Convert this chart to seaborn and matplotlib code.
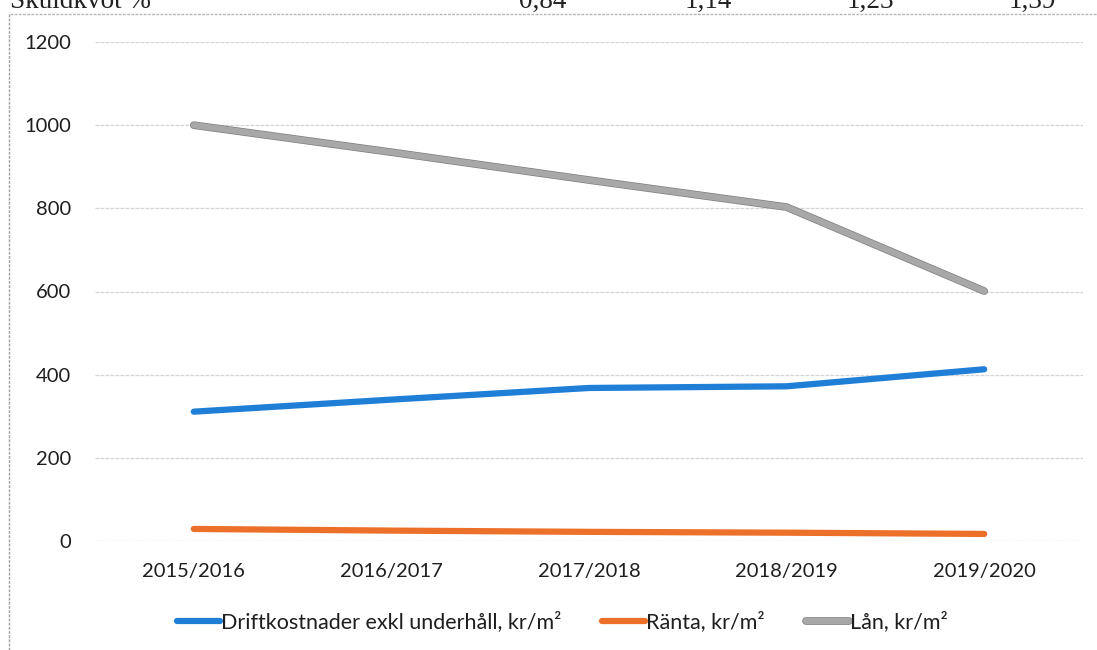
import pandas as pd
import seaborn as sns
import matplotlib.pyplot as plt
import matplotlib.patheffects as pe
from matplotlib.lines import Line2D

# Data
years = ["2015/2016", "2016/2017", "2017/2018", "2018/2019", "2019/2020"]
drift = [311, 340, 368, 372, 413]
ranta = [29, 25, 22, 20, 17]
lan = [1000, 935, 868, 803, 601]

series_names = ["Driftkostnader exkl underhåll, kr/m²", "Ränta, kr/m²", "Lån, kr/m²"]
colors = ["#1f7fd6", "#ec6f2a", "#a8a8a8"]

# Partly visible table row above the chart
header_label = "Skuldkvot %"
header_values = ["0,84", "1,14", "1,23", "1,39"]
header_x = [543, 708, 870, 1032]

df = pd.DataFrame({
    "year": years * 3,
    "value": drift + ranta + lan,
    "serie": [series_names[0]] * 5 + [series_names[1]] * 5 + [series_names[2]] * 5,
})

sns.set_style("white")
plt.rcParams["font.family"] = ["Lato", "DejaVu Sans"]

W, H = 1097, 650
fig = plt.figure(figsize=(W / 100, H / 100), dpi=100)
ax = fig.add_axes([95 / W, (H - 541) / H, (1083 - 95) / W, (541 - 42) / H])

sns.lineplot(data=df, x="year", y="value", hue="serie", palette=colors,
             linewidth=4.5, ax=ax, legend=False, sort=False)

# darker outline on the gray line, as in the scan
gray_fx = [pe.Stroke(linewidth=5.5, foreground="#7d7d7d"), pe.Normal()]
ax.lines[2].set_path_effects(gray_fx)
for ln in ax.lines:
    ln.set_solid_capstyle("round")

ax.set_xlim(-0.5, 4.5)
ax.set_ylim(0, 1200)
ax.set_yticks(range(0, 1201, 200))
ax.grid(axis="y", color="#d4d4d4", linewidth=0.9, linestyle=(0, (3, 1)))
ax.set_axisbelow(True)
for s in ax.spines.values():
    s.set_visible(False)
ax.set_xlabel("")
ax.set_ylabel("")
ax.tick_params(axis="both", length=0, labelsize=14.5, labelcolor="#1e1e1e")
ax.tick_params(axis="y", pad=17)
ax.tick_params(axis="x", pad=16)

handles = [Line2D([0], [0], color=c, linewidth=4.5, solid_capstyle="round") for c in colors]
handles[2].set_path_effects(gray_fx)
fig.legend(handles, series_names, loc="center", bbox_to_anchor=(562 / W, (H - 622) / H),
           ncol=3, frameon=False, fontsize=15.5, handlelength=2.0, handletextpad=0.05,
           columnspacing=1.9, labelcolor="#1e1e1e")

# table fragment at the top, cut off by the page edge
fig.text(10 / W, (H - 8) / H, header_label, family="Liberation Serif", fontsize=19.5,
         ha="left", va="baseline", color="#222222")
for v, x in zip(header_values, header_x):
    fig.text(x / W, (H - 8) / H, v, family="Liberation Serif", fontsize=19.5,
             ha="center", va="baseline", color="#222222")

# scan frame lines
fig.add_artist(Line2D([10 / W, 1], [(H - 14) / H] * 2, color="#b8b8b8",
                      linewidth=1, linestyle=(0, (2, 1))))
fig.add_artist(Line2D([9 / W, 9 / W], [0, (H - 14) / H], color="#a0a0a0",
                      linewidth=1, linestyle=(0, (2, 1))))

plt.savefig("out.png", dpi=100)
